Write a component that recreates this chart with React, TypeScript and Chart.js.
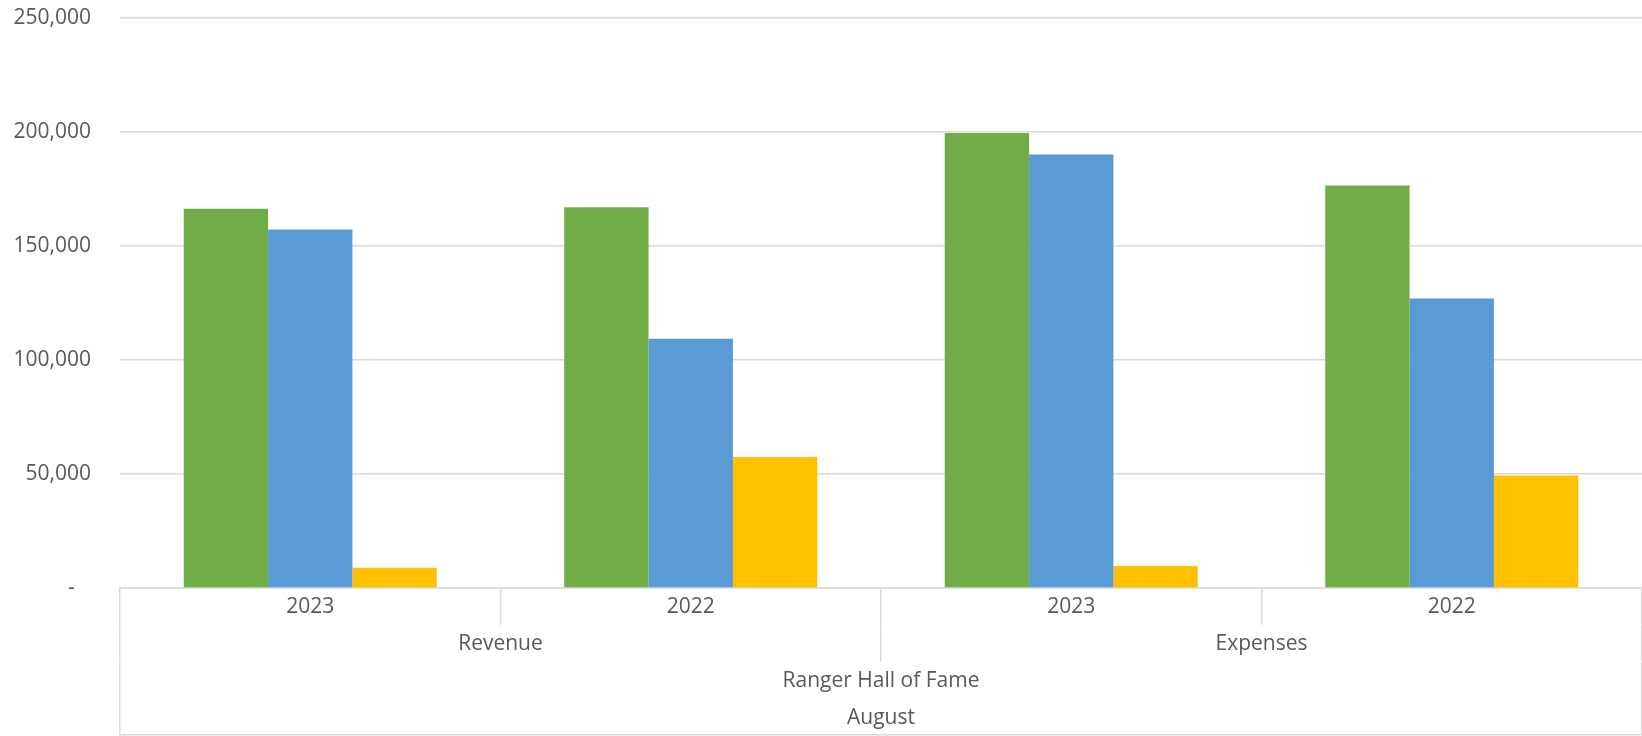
import React, { useEffect, useRef } from 'react';
import { Chart, registerables } from 'chart.js';

Chart.register(...registerables);

// ---- data ----
const yearLabels = ['2023', '2022', '2023', '2022'];
const groupLabels = ['Revenue', 'Expenses'];
const orgLabels = ['Ranger Hall of Fame'];
const monthLabels = ['August'];

const seriesNames = ['Series 1', 'Series 2', 'Series 3'];
const greenValues = [166300, 167000, 199600, 176500];
const blueValues = [157200, 109300, 190100, 127000];
const yellowValues = [8900, 57500, 9600, 49300];

const yMin = 0;
const yMax = 250000;
const yStep = 50000;

// ---- styles ----
const ROW = 36.75;
const FONT = { family: "'Open Sans', sans-serif", size: 21 };
const GRID = '#d9d9d9';
const TEXT = '#595959';
const LINE_H = FONT.size * 1.2;

function levelAxis(labels: string[], weight: number, border: boolean) {
  return {
    type: 'category' as const,
    position: 'bottom' as const,
    labels,
    weight,
    offset: true,
    grid: {
      offset: true,
      drawOnChartArea: false,
      drawTicks: true,
      tickLength: ROW,
      color: GRID,
      lineWidth: 1.5,
    },
    border: { display: border, color: GRID, width: 1.5 },
    ticks: {
      font: FONT,
      color: TEXT,
      padding: -(ROW / 2 + LINE_H / 2) + 1,
      autoSkip: false,
      maxRotation: 0,
      minRotation: 0,
    },
    afterFit: (s: any) => {
      s.height = ROW;
    },
  };
}

export default function App() {
  const ref = useRef<HTMLCanvasElement | null>(null);

  useEffect(() => {
    if (!ref.current) return;
    const chart = new Chart(ref.current, {
      type: 'bar',
      data: {
        labels: yearLabels,
        datasets: [
          { label: seriesNames[0], data: greenValues, backgroundColor: '#70AD47', borderWidth: 0 },
          { label: seriesNames[1], data: blueValues, backgroundColor: '#5B9BD5', borderWidth: 0 },
          { label: seriesNames[2], data: yellowValues, backgroundColor: '#FFC000', borderWidth: 0 },
        ],
      },
      options: {
        animation: false,
        responsive: true,
        maintainAspectRatio: false,
        layout: { padding: { top: 18, right: 0, left: 0, bottom: 0 } },
        datasets: { bar: { categoryPercentage: 0.665, barPercentage: 1 } },
        plugins: { legend: { display: false }, tooltip: { enabled: false }, title: { display: false } },
        scales: {
          x: levelAxis(yearLabels, 1, true),
          x2: levelAxis(groupLabels, 2, false),
          x3: levelAxis(orgLabels, 3, false),
          x4: levelAxis(monthLabels, 4, false),
          x5: {
            type: 'category',
            position: 'bottom',
            labels: [''],
            weight: 5,
            grid: { display: false, drawOnChartArea: false, drawTicks: false },
            border: { display: true, color: GRID, width: 1.5 },
            ticks: { display: false },
            afterFit: (s: any) => {
              s.height = 1;
            },
          },
          y: {
            min: yMin,
            max: yMax,
            grid: { color: GRID, lineWidth: 1.5, drawTicks: true, tickLength: 29, tickColor: 'rgba(0,0,0,0)' },
            border: { display: false },
            ticks: {
              stepSize: yStep,
              font: FONT,
              color: TEXT,
              padding: 0,
              callback: (v: any) => (Number(v) === 0 ? '-   ' : Number(v).toLocaleString('en-US')),
            },
            afterFit: (s: any) => {
              s.width = 120;
            },
          },
        } as any,
      },
    });
    return () => chart.destroy();
  }, []);

  return (
    <div style={{ position: 'absolute', left: 0, top: 0, width: 1642, height: 736, background: '#fff' }}>
      <canvas ref={ref} />
    </div>
  );
}
